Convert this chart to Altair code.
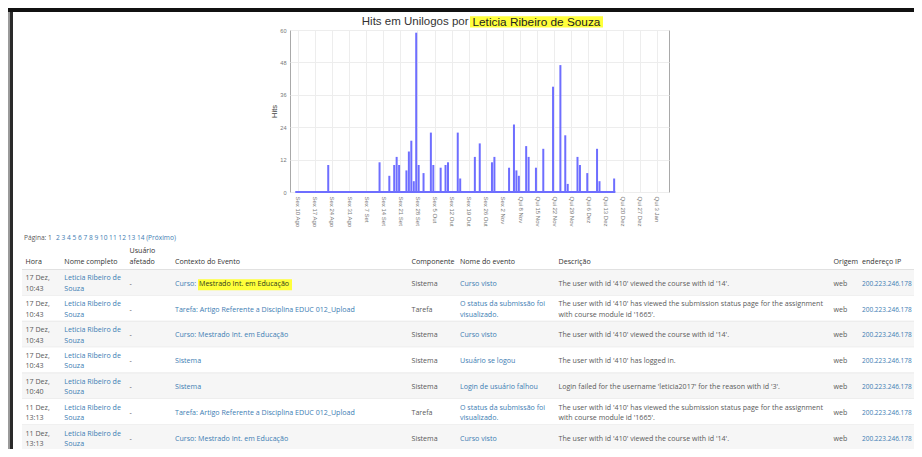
import json
import altair as alt
import pandas as pd

# ---------------- chart data ----------------
datas = ["2018-08-22", "2018-09-12", "2018-09-16", "2018-09-18", "2018-09-19", "2018-09-20",
         "2018-09-23", "2018-09-24", "2018-09-25", "2018-09-26", "2018-09-27", "2018-09-28",
         "2018-09-30", "2018-10-03", "2018-10-04", "2018-10-07", "2018-10-09", "2018-10-10",
         "2018-10-14", "2018-10-15", "2018-10-21", "2018-10-23", "2018-10-28", "2018-10-29",
         "2018-11-04", "2018-11-06", "2018-11-07", "2018-11-08", "2018-11-11", "2018-11-12",
         "2018-11-15", "2018-11-18", "2018-11-22", "2018-11-25", "2018-11-27", "2018-11-28",
         "2018-12-02", "2018-12-03", "2018-12-06", "2018-12-10", "2018-12-11", "2018-12-17"]
hits = [10, 11, 6, 10, 13, 10, 8, 15, 19, 4, 59, 10, 7, 22, 10, 9, 10, 11, 22, 5, 13, 18,
        11, 13, 9, 25, 8, 6, 17, 13, 9, 16, 39, 47, 21, 3, 13, 10, 7, 16, 4, 5]
primeiro_tick = "2018-08-10"
periodo = ["2018-08-09", "2018-12-17"]
rotulos_x = ["Sex 10 Ago", "Sex 17 Ago", "Sex 24 Ago", "Sex 31 Ago", "Sex 7 Set", "Sex 14 Set",
             "Sex 21 Set", "Sex 28 Set", "Sex 5 Out", "Sex 12 Out", "Sex 19 Out", "Sex 26 Out",
             "Sex 2 Nov", "Qui 8 Nov", "Qui 15 Nov", "Qui 22 Nov", "Qui 29 Nov", "Qui 6 Dez",
             "Qui 13 Dez", "Qui 20 Dez", "Qui 27 Dez", "Qui 3 Jan"]
ticks_y = [0, 12, 24, 36, 48, 60]
titulo_a = "Hits em Unilogos por"
titulo_b = "Leticia Ribeiro de Souza"

# ---------------- table data ----------------
paginacao_a = "Página: 1"
paginacao_b = "2 3 4 5 6 7 8 9 10 11 12 13 14 (Próximo)"
cabecalhos = [["Hora"], ["Nome completo"], ["Usuário", "afetado"], ["Contexto do Evento"],
              ["Componente"], ["Nome do evento"], ["Descrição"], ["Origem"], ["endereço IP"]]
horas = [["17 Dez,", "10:43"], ["17 Dez,", "10:43"], ["17 Dez,", "10:43"], ["17 Dez,", "10:43"],
         ["17 Dez,", "10:40"], ["11 Dez,", "13:13"], ["11 Dez,", "13:13"]]
nomes = [["Leticia Ribeiro de", "Souza"]] * 7
afetados = ["-"] * 7
contextos = ["Curso: Mestrado Int. em Educação",
             "Tarefa: Artigo Referente a Disciplina EDUC 012_Upload",
             "Curso: Mestrado Int. em Educação",
             "Sistema",
             "Sistema",
             "Tarefa: Artigo Referente a Disciplina EDUC 012_Upload",
             "Curso: Mestrado Int. em Educação"]
componentes = ["Sistema", "Tarefa", "Sistema", "Sistema", "Sistema", "Tarefa", "Sistema"]
eventos = [["Curso visto"], ["O status da submissão foi", "visualizado."], ["Curso visto"],
           ["Usuário se logou"], ["Login de usuário falhou"],
           ["O status da submissão foi", "visualizado."], ["Curso visto"]]
descricoes = [["The user with id '410' viewed the course with id '14'."],
              ["The user with id '410' has viewed the submission status page for the assignment",
               "with course module id '1665'."],
              ["The user with id '410' viewed the course with id '14'."],
              ["The user with id '410' has logged in."],
              ["Login failed for the username 'leticia2017' for the reason with id '3'."],
              ["The user with id '410' has viewed the submission status page for the assignment",
               "with course module id '1665'."],
              ["The user with id '410' viewed the course with id '14'."]]
origens = ["web"] * 7
ips = ["200.223.246.178"] * 7

# ---------------- layout (page pixels) ----------------
W, H = 379, 162
OX, OY = 290, 30
TOT_W, TOT_H = 906, 441
PAD = {"left": OX - 8, "top": OY - 8, "right": TOT_W - (OX - 8) - W,
       "bottom": TOT_H - (OY - 8) - H}


def vx(p):
    return p - OX


def vy(p):
    return p - OY


GRAY, DARK, LINK = "#5a5a5a", "#333333", "#3d7db3"
FS = 7.1
col_x = [25.5, 64.3, 129.5, 175, 411.5, 460, 558.5, 833.5, 862]
ROW0, ROW_H, LINE = 278.3, 25.9, 10.4

# ---------------- chart layers ----------------
base_day = pd.Timestamp(primeiro_tick)
df_bars = pd.DataFrame({"data": datas, "hits": hits})
df_bars["dia"] = (pd.to_datetime(df_bars["data"]) - base_day).dt.days
df_base = pd.DataFrame({"ini": [(pd.Timestamp(periodo[0]) - base_day).days],
                        "fim": [(pd.Timestamp(periodo[1]) - base_day).days + 1]})

label_expr = json.dumps(rotulos_x) + "[round(datum.value / 7)]"
xscale = alt.Scale(domain=[-1.1, 149.9], nice=False, zero=False)
yscale = alt.Scale(domain=[0, 60], nice=False)
xaxis = alt.Axis(values=list(range(0, 7 * len(rotulos_x), 7)), labelExpr=label_expr, labelAngle=90,
                 labelFontSize=6, labelColor="#777777", labelFont="Liberation Sans",
                 grid=True, gridColor="#ededed", domain=False, ticks=False, labelPadding=4,
                 title=None, labelOverlap=False)
yaxis = alt.Axis(values=ticks_y, title="Hits", titleFontSize=7.5, titleFontWeight="normal",
                 titleColor="#444444", titleFont="Liberation Sans", labelFont="Liberation Sans",
                 labelFontSize=5.6, labelColor="#777777", grid=True, gridColor="#ededed",
                 domain=False, ticks=False, labelPadding=4, titlePadding=1)

bars = alt.Chart(df_bars).transform_calculate(meio="datum.dia + 0.5").mark_bar(
    size=2, color="#6e6eff").encode(
    x=alt.X("meio:Q", scale=xscale, axis=xaxis),
    y=alt.Y("hits:Q", scale=yscale, axis=yaxis),
)
baseline = alt.Chart(df_base).mark_rule(color="#6e6eff", strokeWidth=2).encode(
    x=alt.X("ini:Q", scale=xscale, axis=xaxis),
    x2="fim:Q",
    y=alt.datum(0, scale=yscale, axis=yaxis),
)
chart_part = alt.layer(bars, baseline)

# ---------------- decoration rectangles ----------------
rects = []
for r in range(7):
    y0 = ROW0 + r * ROW_H
    if r % 2 == 0:
        rects.append((22, 922, y0 - 9, y0 + ROW_H - 9, "#f6f6f6"))
    rects.append((22, 922, y0 - 9.3, y0 - 8.7, "#e3e3e3"))
rects.append((22, 922, 268.9, 269.7, "#dcdcdc"))
rects.append((470, 603, 16.3, 27.5, "#ffff3a"))         # title highlight
rects.append((198, 292, 279.3, 290.3, "#ffff3a"))       # row highlight
rects.append((8, 10, 8, 457, "#9a9a9a"))                # screenshot frame
rects.append((10, 13, 8, 457, "#2a2a2a"))
rects.append((8, 922, 8, 12, "#111111"))
df_rect = pd.DataFrame([{"x": vx(a), "x2": vx(b), "y": vy(c), "y2": vy(d), "cor": e}
                        for a, b, c, d, e in rects])
deco = alt.Chart(df_rect).mark_rect().encode(
    x=alt.X("x:Q", scale=None, axis=None), x2="x2:Q",
    y=alt.Y("y:Q", scale=None, axis=None), y2="y2:Q",
    color=alt.Color("cor:N", scale=None),
)

# ---------------- table texts ----------------
texts = []


def add(px, py, t, cor, fs=FS):
    texts.append({"x": vx(px), "y": vy(py), "t": t, "cor": cor, "fs": fs})


add(24, 237.7, paginacao_a, GRAY, 6.6)
add(56, 237.7, paginacao_b, LINK, 6.6)
for c, lines in enumerate(cabecalhos):
    if len(lines) == 1:
        add(col_x[c], 262.3, lines[0], DARK, 7.1)
    else:
        add(col_x[c], 251.0, lines[0], DARK, 7.1)
        add(col_x[c], 262.3, lines[1], DARK, 7.1)

for r in range(7):
    y0 = ROW0 + r * ROW_H
    cells = [(0, horas[r], GRAY), (1, nomes[r], LINK), (2, [afetados[r]], GRAY),
             (3, [contextos[r]], LINK), (4, [componentes[r]], GRAY), (5, eventos[r], LINK),
             (6, descricoes[r], GRAY), (7, [origens[r]], GRAY), (8, [ips[r]], LINK)]
    for c, lines, cor in cells:
        fs = 6.5 if c == 8 else FS
        if r == 0 and c == 3:
            pre, rest = lines[0].split(": ", 1)
            add(col_x[c], y0 + 5.3, pre + ":", LINK)
            add(199, y0 + 5.3, rest, "#2f3a1a")
            continue
        if len(lines) == 1:
            add(col_x[c], y0 + 5.3, lines[0], cor, fs)
        else:
            add(col_x[c], y0, lines[0], cor, fs)
            add(col_x[c], y0 + LINE, lines[1], cor, fs)

df_text = pd.DataFrame(texts)
table = alt.Chart(df_text).mark_text(align="left", baseline="middle", font="Open Sans").encode(
    x=alt.X("x:Q", scale=None, axis=None),
    y=alt.Y("y:Q", scale=None, axis=None),
    text="t:N",
    color=alt.Color("cor:N", scale=None),
    size=alt.Size("fs:Q", scale=None),
)

df_title = pd.DataFrame([
    {"x": vx(468.5), "y": vy(22), "t": titulo_a},
    {"x": vx(472.5), "y": vy(22), "t": titulo_b},
])
title_a = alt.Chart(df_title.iloc[[0]]).mark_text(
    align="right", baseline="middle", font="Liberation Sans", fontSize=11.5, color="#333333").encode(
    x=alt.X("x:Q", scale=None, axis=None), y=alt.Y("y:Q", scale=None, axis=None), text="t:N")
title_b = alt.Chart(df_title.iloc[[1]]).mark_text(
    align="left", baseline="middle", font="Liberation Sans", fontSize=11.8, color="#222222").encode(
    x=alt.X("x:Q", scale=None, axis=None), y=alt.Y("y:Q", scale=None, axis=None), text="t:N")

chart = alt.layer(deco, chart_part, table, title_a, title_b).resolve_scale(
    x="independent", y="independent", color="independent", size="independent"
).properties(
    width=W, height=H, padding=PAD, autosize=alt.AutoSizeParams(type="none"),
    background="white",
).configure_view(stroke="#a9a9a9", strokeWidth=1)

chart.save("out.html", embed_options={"renderer": "svg", "actions": False})
